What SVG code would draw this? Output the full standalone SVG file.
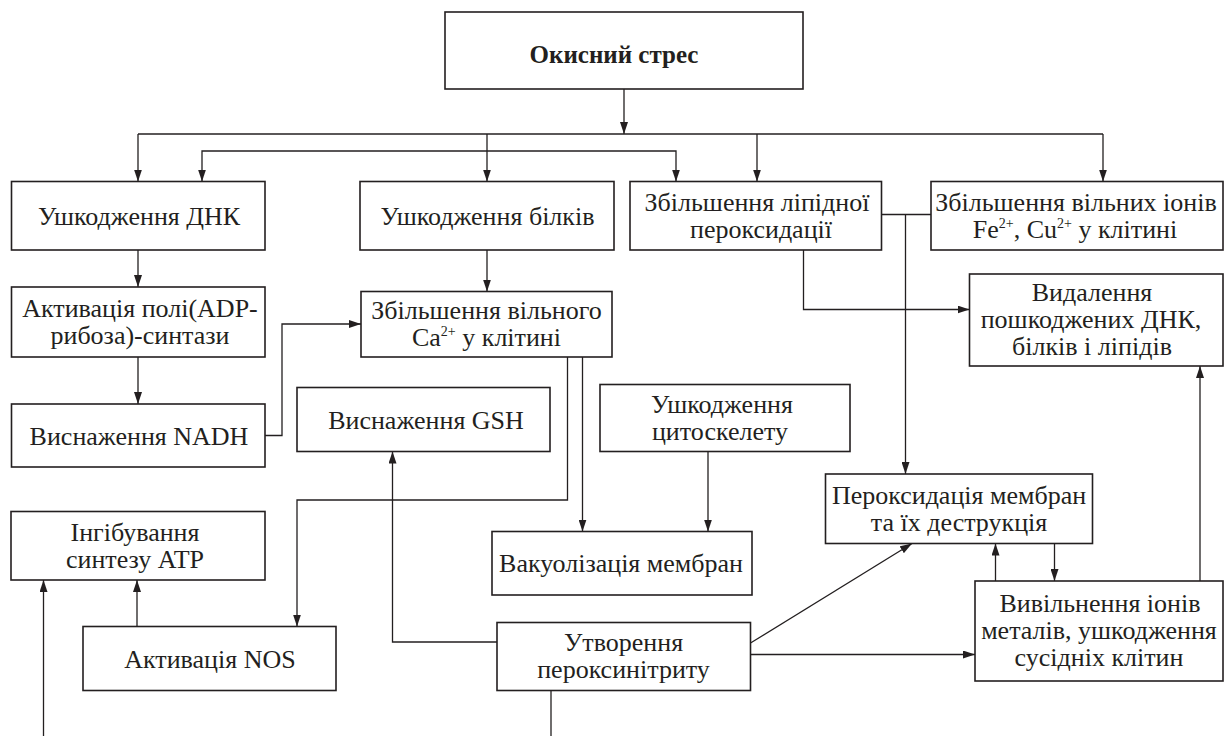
<svg xmlns="http://www.w3.org/2000/svg" width="1225" height="736" viewBox="0 0 1225 736">
<defs>
<style>
.box{fill:#fff;stroke:#231f20;stroke-width:1.6}
.t{font-family:"Liberation Serif","Times New Roman",serif;font-size:26px;fill:#231f20;text-anchor:middle}
.b{font-weight:bold;font-size:25px}
.c{fill:none;stroke:#231f20;stroke-width:1.3}
.a{marker-end:url(#ah)}
</style>
<marker id="ah" viewBox="0 0 12 8" refX="12" refY="4" markerWidth="12" markerHeight="8" markerUnits="userSpaceOnUse" orient="auto-start-reverse">
<path d="M0,0 L12,4 L0,8 z" fill="#231f20"/>
</marker>
</defs>
<rect width="1225" height="736" fill="#fff"/>

<g id="connectors">
<path class="c a" d="M624,89 V134"/>
<path class="c" d="M138,134 H1103"/>
<path class="c a" d="M138,134 V181.5"/>
<path class="c a" d="M487,134 V181.5"/>
<path class="c a" d="M757,134 V181.5"/>
<path class="c a" d="M1103,134 V181.5"/>
<path class="c a" d="M202,181.5 V151 H676 V181.5" marker-start="url(#ah)"/>
<path class="c a" d="M138,250 V287"/>
<path class="c a" d="M138,357 V404"/>
<path class="c a" d="M265,435.5 H282 V324 H361"/>
<path class="c a" d="M487,250 V291.5"/>
<path class="c a" d="M567.5,357 V500 H297 V626.5"/>
<path class="c a" d="M582.5,357 V531.5"/>
<path class="c a" d="M708,451.5 V531.5"/>
<path class="c a" d="M497,642 H392.5 V451.5"/>
<path class="c a" d="M137,626.5 V580"/>
<path class="c a" d="M43.5,736 V580"/>
<path class="c" d="M551,690.5 V736"/>
<path class="c" d="M881.5,214.5 H931"/>
<path class="c a" d="M905.5,214.5 V474"/>
<path class="c a" d="M803.5,250 V309.5 H969.5"/>
<path class="c a" d="M750.5,643 L912,543.5"/>
<path class="c a" d="M750.5,654.5 H975"/>
<path class="c a" d="M995.5,581 V543.5"/>
<path class="c a" d="M1054.5,543.5 V581"/>
<path class="c a" d="M1200,581 V366"/>
</g>

<g id="n-stress">
<rect class="box" x="445" y="12" width="358" height="77"/>
<text class="t b" x="614" y="63">Окисний стрес</text>
</g>
<g id="n-dna">
<rect class="box" x="11.5" y="181.5" width="253.5" height="68.5"/>
<text class="t" x="139" y="224.5">Ушкодження ДНК</text>
</g>
<g id="n-proteins">
<rect class="box" x="360" y="181.5" width="254" height="68.5"/>
<text class="t" x="487.5" y="224.5">Ушкодження білків</text>
</g>
<g id="n-lipid">
<rect class="box" x="630" y="181.5" width="251.5" height="68.5"/>
<text class="t" x="757" y="210.5">Збільшення ліпідної</text>
<text class="t" x="761" y="237.5">пероксидації</text>
</g>
<g id="n-fe">
<rect class="box" x="931" y="181.5" width="292" height="68.5"/>
<text class="t" x="1076" y="210.5">Збільшення вільних іонів</text>
<text class="t" x="1075" y="237.5">Fe<tspan font-size="14" dy="-10">2+</tspan><tspan dy="10">, Cu</tspan><tspan font-size="14" dy="-10">2+</tspan><tspan dy="10"> у клітині</tspan></text>
</g>
<g id="n-parp">
<rect class="box" x="11.5" y="287" width="253.5" height="70"/>
<text class="t" x="140" y="316.8">Активація полі(ADP-</text>
<text class="t" x="140" y="343.8">рибоза)-синтази</text>
</g>
<g id="n-nadh">
<rect class="box" x="11.5" y="404" width="253.5" height="63"/>
<text class="t" x="139" y="444.5">Виснаження NADH</text>
</g>
<g id="n-ca">
<rect class="box" x="361" y="291.5" width="251" height="65.5"/>
<text class="t" x="486.5" y="319">Збільшення вільного</text>
<text class="t" x="486.5" y="346">Ca<tspan font-size="14" dy="-10">2+</tspan><tspan dy="10"> у клітині</tspan></text>
</g>
<g id="n-gsh">
<rect class="box" x="297" y="387.5" width="253" height="64"/>
<text class="t" x="426" y="428.5">Виснаження GSH</text>
</g>
<g id="n-cyto">
<rect class="box" x="600" y="384.5" width="250" height="67"/>
<text class="t" x="722" y="412.8">Ушкодження</text>
<text class="t" x="720" y="439.8">цитоскелету</text>
</g>
<g id="n-removal">
<rect class="box" x="969.5" y="274" width="253.5" height="92"/>
<text class="t" x="1092" y="301.3">Видалення</text>
<text class="t" x="1091" y="328.3">пошкоджених ДНК,</text>
<text class="t" x="1092" y="355.3">білків і ліпідів</text>
</g>
<g id="n-perox">
<rect class="box" x="825.5" y="474" width="267" height="69.5"/>
<text class="t" x="959" y="503.5">Пероксидація мембран</text>
<text class="t" x="959" y="530.5">та їх деструкція</text>
</g>
<g id="n-atp">
<rect class="box" x="11" y="511.5" width="254" height="68.5"/>
<text class="t" x="135" y="540.5">Інгібування</text>
<text class="t" x="135" y="567.5">синтезу ATP</text>
</g>
<g id="n-vac">
<rect class="box" x="492" y="531.5" width="260" height="63.5"/>
<text class="t" x="621" y="572">Вакуолізація мембран</text>
</g>
<g id="n-nos">
<rect class="box" x="83" y="626.5" width="253" height="64"/>
<text class="t" x="210" y="667.5">Активація NOS</text>
</g>
<g id="n-peroxynitrite">
<rect class="box" x="497" y="622.5" width="253.5" height="68"/>
<text class="t" x="623.5" y="651.3">Утворення</text>
<text class="t" x="623.5" y="678.3">пероксинітриту</text>
</g>
<g id="n-release">
<rect class="box" x="975" y="581" width="248" height="100"/>
<text class="t" x="1100" y="612.3">Вивільнення іонів</text>
<text class="t" x="1099" y="639.3">металів, ушкодження</text>
<text class="t" x="1099" y="666.3">сусідніх клітин</text>
</g>
</svg>
